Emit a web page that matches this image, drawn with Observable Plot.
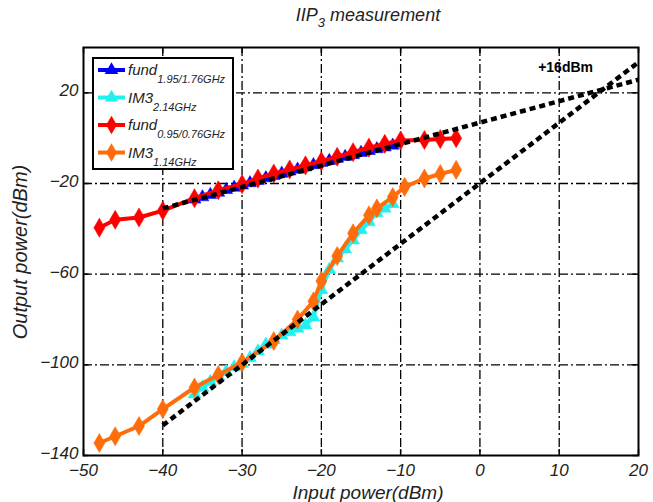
<!DOCTYPE html>
<html>
<head>
<meta charset="utf-8">
<script src="https://cdn.jsdelivr.net/npm/d3@7"></script>
<script src="https://cdn.jsdelivr.net/npm/@observablehq/plot@0.6"></script>
<style>
  html, body { margin: 0; padding: 0; background: #fff; }
  #chart svg { display: block; }
</style>
</head>
<body>
<div id="chart"></div>
<script>
// ---- data ----
const fundHiX = [-36,-35,-34,-33,-32,-31,-30,-29,-28,-27,-26,-25,-24,-23,-22,-21,-20,-19,-18,-17,-16,-15,-14,-13,-12,-11];
const fundHiY = [-27,-26,-25,-24,-22.8,-21.8,-20.8,-19.8,-18.8,-17.6,-16.6,-15.6,-14.6,-13.8,-12.8,-11.8,-10.8,-10,-9,-8.2,-7.4,-6.4,-5.6,-4.8,-4,-3.2];

const im3HiX = [-36,-35,-34,-33,-32,-31,-30,-29,-28,-27,-26,-25,-24,-23,-22,-21,-20,-19,-18,-17,-16,-15,-14,-13,-12,-11];
const im3HiY = [-113,-110,-107.5,-105,-103,-101,-99.5,-97,-94,-91,-89,-87,-85.5,-84,-82.5,-79,-67,-58,-53,-49,-45,-40.5,-37,-33,-31,-29];

const fundLoX = [-48,-46,-43,-40,-36,-33,-30,-28,-26,-24,-22,-20,-18,-16,-14,-12,-10,-7,-5,-3];
const fundLoY = [-39.5,-36,-35,-32,-26.5,-23,-20.3,-17.8,-15.6,-13.8,-12,-10.2,-8.2,-6.2,-4.2,-2.5,-1,-0.8,-0.4,0];

const im3LoX = [-48,-46,-43,-40,-36,-33,-30,-26,-23,-21,-20,-18,-16,-14,-13,-11,-9.5,-7,-5,-3];
const im3LoY = [-134.5,-131.5,-127,-119.5,-110,-104.5,-99,-89.5,-80,-72,-63,-52,-42,-34,-31,-26,-21.5,-17.8,-15.8,-14];

// extrapolation lines (endpoints)
const fundFitX = [-40, 20];
const fundFitY = [-31, 25.8];
const im3FitX = [-40, 20];
const im3FitY = [-126.7, 33.5];

const xTicks = [-50,-40,-30,-20,-10,0,10,20];
const yTicks = [20,-20,-60,-100,-140];
const xGrid = [-40,-30,-20,-10,0,10];
const yGrid = [20,-20,-60,-100];

const seriesNames = ["fund", "IM3", "fund", "IM3"];
const seriesSubs = ["1.95/1.76GHz", "2.14GHz", "0.95/0.76GHz", "1.14GHz"];
const seriesColors = ["#0000ff", "#22f0f0", "#ff0000", "#ff6c0a"];
const seriesSymbols = ["triangle", "triangle", "diamond", "diamond"];
const annotation = "+16dBm";

const zip = (xs, ys) => xs.map((x, i) => ({x, y: ys[i]}));
const fundHi = zip(fundHiX, fundHiY);
const im3Hi = zip(im3HiX, im3HiY);
const fundLo = zip(fundLoX, fundLoY);
const im3Lo = zip(im3LoX, im3LoY);
const fundFit = zip(fundFitX, fundFitY);
const im3Fit = zip(im3FitX, im3FitY);

const fmt = d => d < 0 ? "\u2212" + (-d) : String(d);
const FONT = "'Liberation Sans', Arial, sans-serif";

function seriesMarks(data, color, symbol, r) {
  return [
    Plot.line(data, {x: "x", y: "y", stroke: color, strokeWidth: 4}),
    Plot.dot(data, {x: "x", y: "y", fill: color, symbol, r, stroke: color, strokeWidth: 0.5})
  ];
}

const plot = Plot.plot({
  width: 653,
  height: 502,
  marginTop: 47,
  marginBottom: 47,
  marginLeft: 83,
  marginRight: 15,
  style: {fontFamily: FONT, fontSize: "17px", fontStyle: "italic", background: "#fff", color: "#222"},
  x: {domain: [-50, 20]},
  y: {domain: [-140, 40]},
  marks: [
    Plot.gridX(xGrid, {stroke: "#000", strokeOpacity: 1, strokeWidth: 1.3, strokeDasharray: "9,3,2,3"}),
    Plot.gridY(yGrid, {stroke: "#000", strokeOpacity: 1, strokeWidth: 1.3, strokeDasharray: "9,3,2,3"}),
    Plot.ruleX(xTicks, {x: d => d, y1: -140, y2: -137.4, stroke: "#000", strokeWidth: 1.5}),
    Plot.ruleX(xTicks, {x: d => d, y1: 40, y2: 37.4, stroke: "#000", strokeWidth: 1.5}),
    Plot.ruleY(yTicks, {y: d => d, x1: -50, x2: -49.3, stroke: "#000", strokeWidth: 1.5}),
    Plot.ruleY(yTicks, {y: d => d, x1: 20, x2: 19.3, stroke: "#000", strokeWidth: 1.5}),
    Plot.axisX(xTicks, {tickSize: 0, tickPadding: 8, tickFormat: fmt, fontSize: 17, fill: "#222"}),
    Plot.axisY(yTicks, {tickSize: 0, tickPadding: 5, dy: -2, tickFormat: fmt, fontSize: 17, fill: "#222", label: null}),
    ...seriesMarks(fundHi, seriesColors[0], seriesSymbols[0], 4.8),
    ...seriesMarks(fundLo, seriesColors[2], seriesSymbols[2], 5.8),
    ...seriesMarks(im3Hi, seriesColors[1], seriesSymbols[1], 4.8),
    ...seriesMarks(im3Lo, seriesColors[3], seriesSymbols[3], 5.8),
    Plot.line(fundFit, {x: "x", y: "y", stroke: "#000", strokeWidth: 4.5, strokeDasharray: "6,4", strokeLinecap: "butt"}),
    Plot.line(im3Fit, {x: "x", y: "y", stroke: "#000", strokeWidth: 4.5, strokeDasharray: "6,4", strokeLinecap: "butt"}),
    Plot.text([annotation], {x: 10.8, y: 31, text: d => d, fontWeight: "bold", fontStyle: "normal", fontSize: 14, fill: "#000"}),
    Plot.frame({stroke: "#000", strokeWidth: 2})
  ]
});

const svg = d3.select(plot);
svg.selectAll("[aria-label='x-axis label'], [aria-label='y-axis label']").remove();

// title
const title = svg.append("text")
  .attr("x", 368).attr("y", 21)
  .attr("text-anchor", "middle")
  .style("font-family", FONT).style("font-style", "italic").style("font-size", "18px").attr("fill", "#222");
title.append("tspan").text("IIP");
title.append("tspan").attr("dy", 6).style("font-size", "13px").text("3");
title.append("tspan").attr("dy", -6).text(" measurement");

// axis labels
svg.append("text")
  .attr("x", 368).attr("y", 499)
  .attr("text-anchor", "middle")
  .style("font-family", FONT).style("font-style", "italic").style("font-size", "19px").attr("fill", "#222")
  .text("Input power(dBm)");
svg.append("text")
  .attr("transform", "translate(27,252) rotate(-90)")
  .attr("text-anchor", "middle")
  .style("font-family", FONT).style("font-style", "italic").style("font-size", "20px").attr("fill", "#222")
  .text("Output power(dBm)");

// legend
const lg = svg.append("g");
lg.append("rect").attr("x", 93).attr("y", 58).attr("width", 140).attr("height", 111)
  .attr("fill", "#fff").attr("stroke", "#000").attr("stroke-width", 2);
const sym = {triangle: d3.symbolTriangle, diamond: d3.symbolDiamond};
seriesNames.forEach((name, i) => {
  const cy = 70 + i * 27.5;
  lg.append("line").attr("x1", 98).attr("x2", 125).attr("y1", cy).attr("y2", cy)
    .attr("stroke", seriesColors[i]).attr("stroke-width", 4);
  lg.append("path").attr("transform", `translate(111.5,${cy})`)
    .attr("d", d3.symbol(sym[seriesSymbols[i]], seriesSymbols[i] === "diamond" ? 100 : 80)())
    .attr("fill", seriesColors[i]);
  const t = lg.append("text").attr("x", 128).attr("y", cy + 5)
    .attr("text-anchor", "start")
    .style("font-family", FONT).style("font-style", "italic").style("font-size", "15px").attr("fill", "#222");
  t.append("tspan").text(name);
  t.append("tspan").attr("dy", 8).style("font-size", "11px").text(seriesSubs[i]);
});

document.getElementById("chart").appendChild(plot);
</script>
</body>
</html>
